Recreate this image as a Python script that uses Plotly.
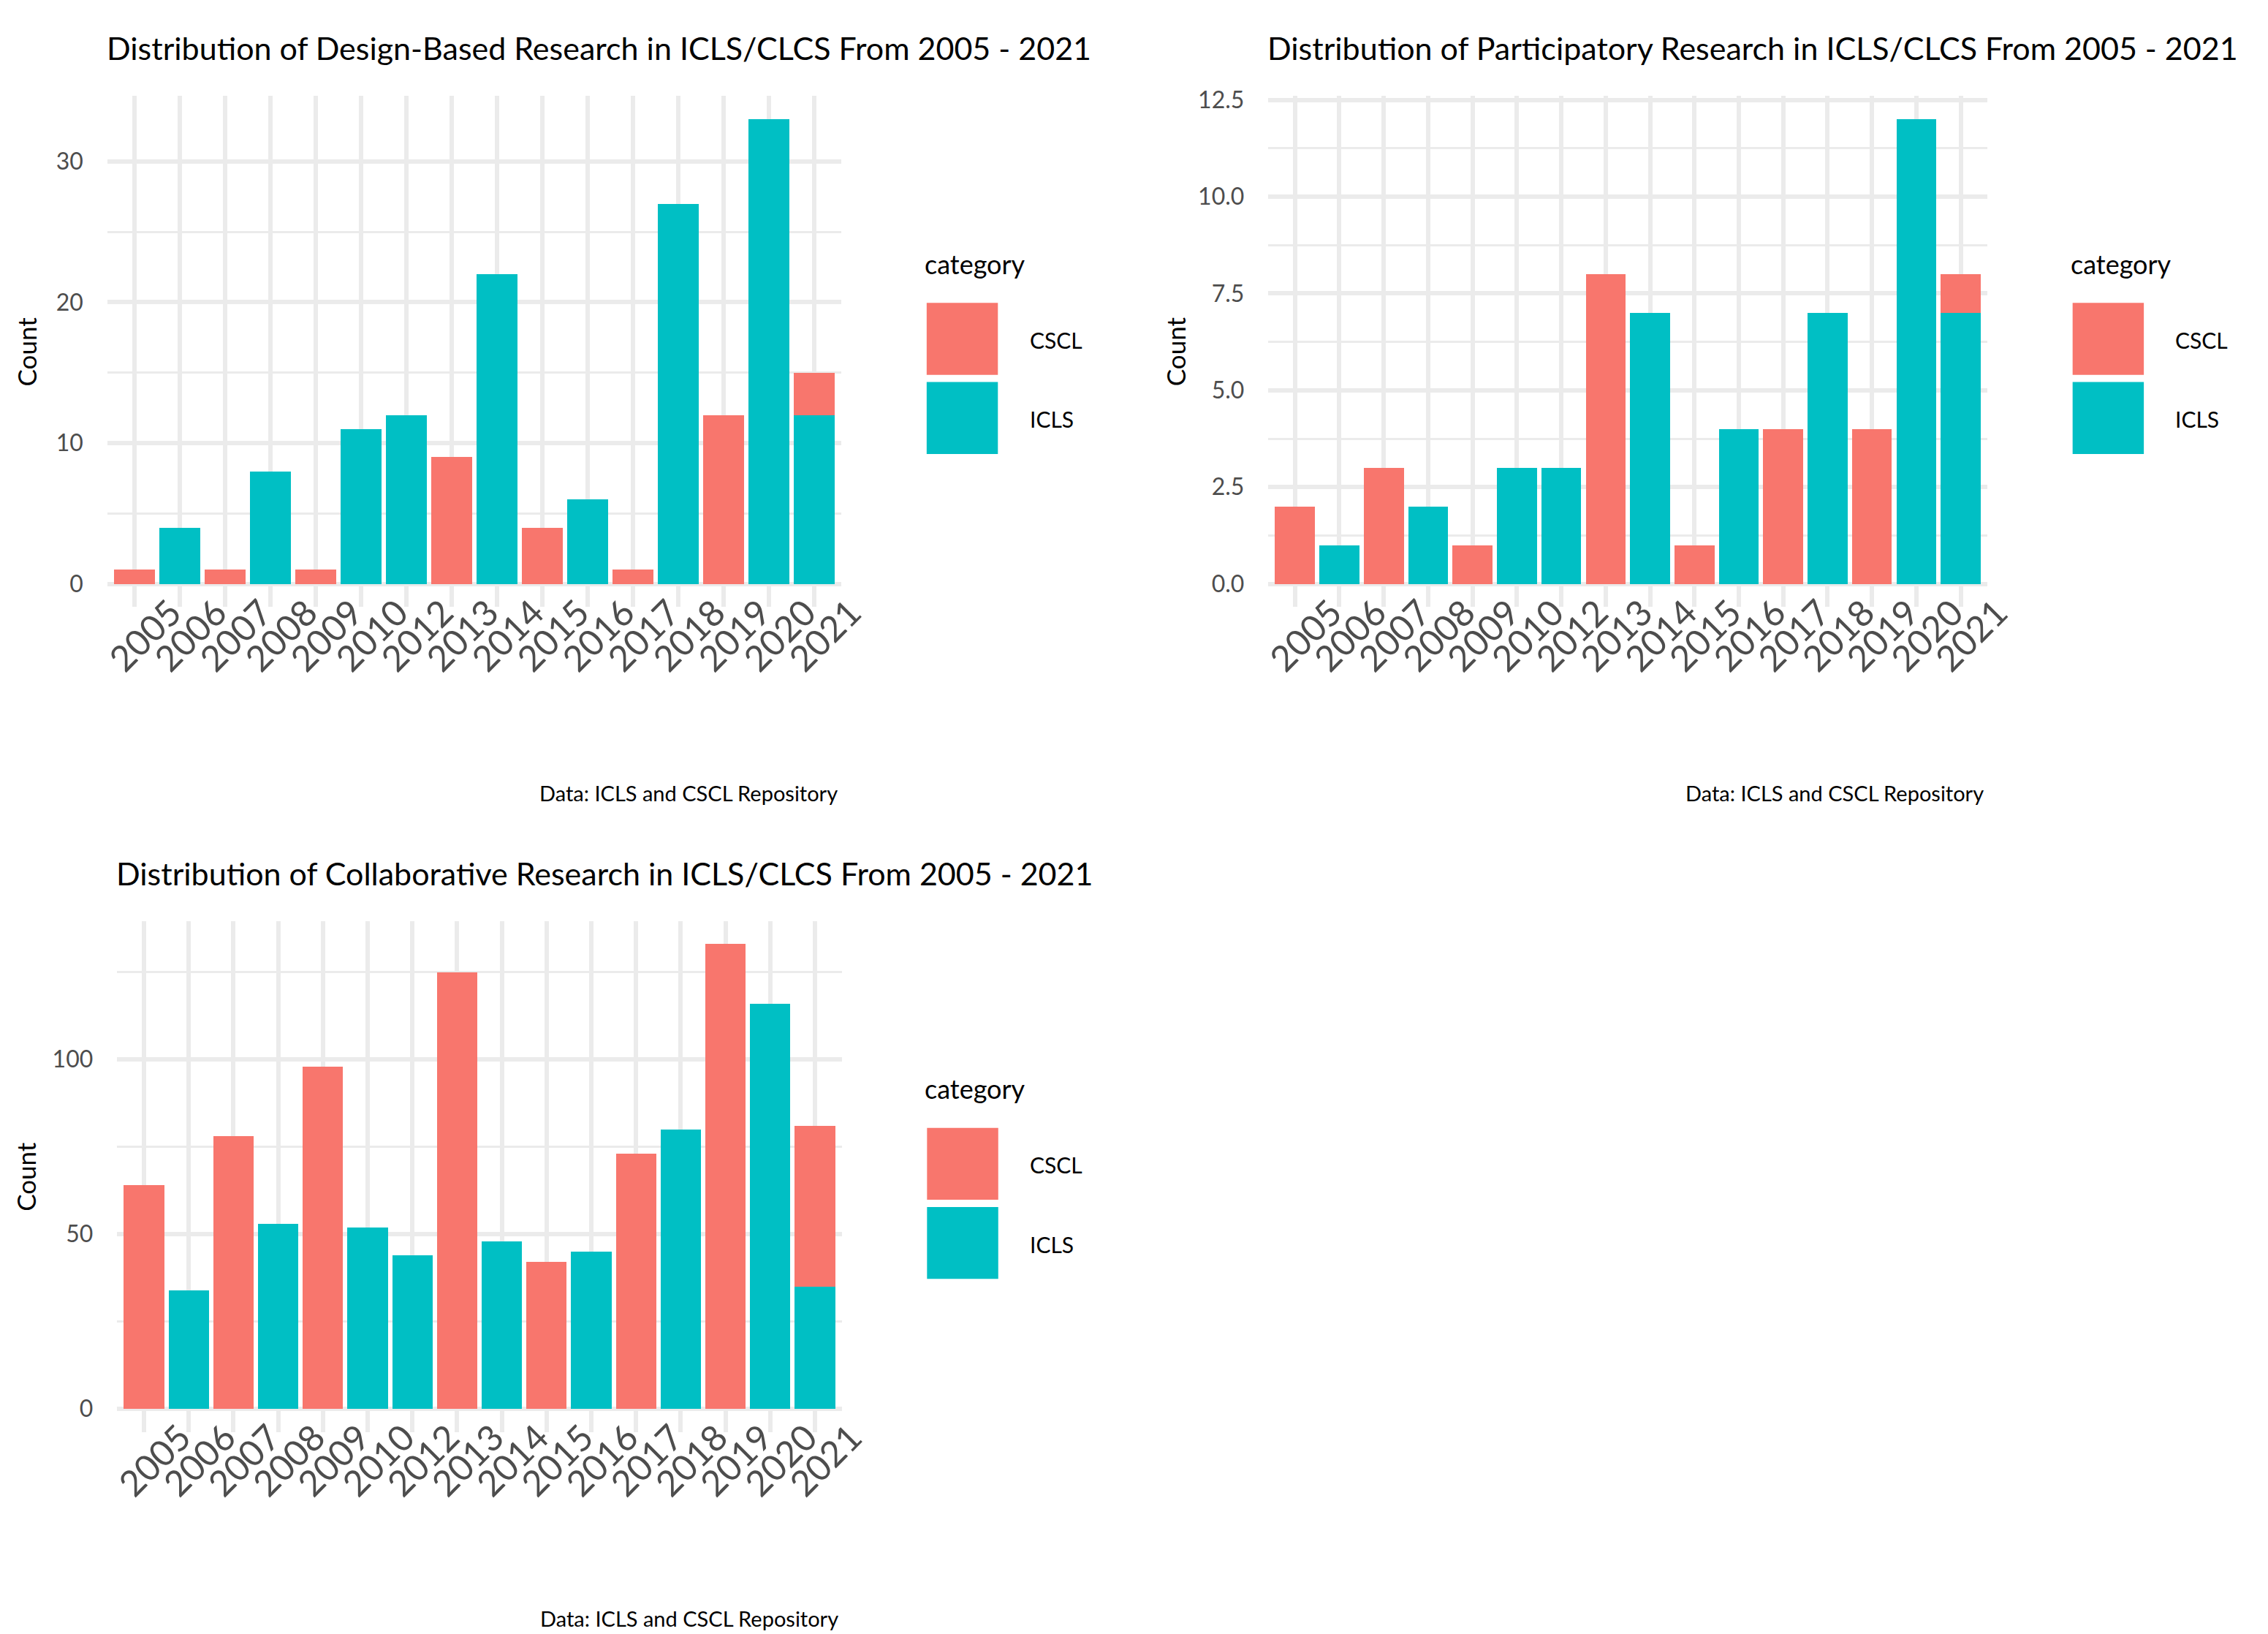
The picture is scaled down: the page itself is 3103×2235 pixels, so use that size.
import plotly.graph_objects as go

# ---------------- data ----------------
years = ["2005", "2006", "2007", "2008", "2009", "2010", "2012", "2013",
         "2014", "2015", "2016", "2017", "2018", "2019", "2020", "2021"]

dbr_cscl = [1, None, 1, None, 1, None, None, 9, None, 4, None, 1, None, 12, None, 3]
dbr_icls = [None, 4, None, 8, None, 11, 12, None, 22, None, 6, None, 27, None, 33, 12]

pr_cscl = [2, None, 3, None, 1, None, None, 8, None, 1, None, 4, None, 4, None, 1]
pr_icls = [None, 1, None, 2, None, 3, 3, None, 7, None, 4, None, 7, None, 12, 7]

cr_cscl = [64, None, 78, None, 98, None, None, 125, None, 42, None, 73, None, 133, None, 46]
cr_icls = [None, 34, None, 53, None, 52, 44, None, 48, None, 45, None, 80, None, 116, 35]

titles = ["Distribution of Design-Based Research in ICLS/CLCS From 2005 - 2021",
          "Distribution of Participatory Research in ICLS/CLCS From 2005 - 2021",
          "Distribution of Collaborative Research in ICLS/CLCS From 2005 - 2021"]
caption = "Data: ICLS and CSCL Repository"
categories = ["CSCL", "ICLS"]

# ---------------- style ----------------
W, H = 3103, 2235
FONT = "Lato"
COL = {"CSCL": "#F8766D", "ICLS": "#00BFC4"}
GRID = "#EBEBEB"

def fx(px):
    return px / W

def fy(py):
    return 1 - py / H

panels = [
    dict(x0=138, x1=1158.5, yt=117, yb=821, rng=[-1.65, 34.65], dt=10, mdt=5, fmt="d",
         cscl=dbr_cscl, icls=dbr_icls, title_y=51, cap_y=1077, count_x=25, leg_dy=0),
    dict(x0=1752, x1=2751.5, yt=117, yb=821, rng=[-0.6, 12.6], dt=2.5, mdt=1.25, fmt=".1f",
         cscl=pr_cscl, icls=pr_icls, title_y=51, cap_y=1077, count_x=1622, leg_dy=0),
    dict(x0=151.7, x1=1159, yt=1253, yb=1957, rng=[-6.65, 139.65], dt=50, mdt=25, fmt="d",
         cscl=cr_cscl, icls=cr_icls, title_y=1187, cap_y=2213, count_x=25, leg_dy=1136),
]

fig = go.Figure()
annotations = []
shapes = []

for i, p in enumerate(panels):
    sfx = "" if i == 0 else str(i + 1)
    xa, ya = "x" + sfx, "y" + sfx
    fig.add_trace(go.Bar(x=years, y=p["icls"], name="ICLS", marker=dict(color=COL["ICLS"], line=dict(width=0)),
                         xaxis=xa, yaxis=ya, showlegend=False, width=0.9))
    fig.add_trace(go.Bar(x=years, y=p["cscl"], name="CSCL", marker=dict(color=COL["CSCL"], line=dict(width=0)),
                         xaxis=xa, yaxis=ya, showlegend=False, width=0.9))

    fig.layout["xaxis" + sfx] = dict(
        domain=[fx(p["x0"]), fx(p["x1"])], anchor=ya, type="category",
        range=[-0.6, len(years) - 0.4], showgrid=True, gridcolor=GRID, gridwidth=5.5,
        zeroline=False, showline=False, ticks="", tickangle=-45,
        tickfont=dict(family=FONT, size=49, color="#4D4D4D"),
        ticklabelshift=50, ticklabelstandoff=-32, fixedrange=True,
    )
    fig.layout["yaxis" + sfx] = dict(
        domain=[fy(p["yb"]), fy(p["yt"])], anchor=xa, range=p["rng"],
        tick0=0, dtick=p["dt"], tickformat=p["fmt"],
        showgrid=True, gridcolor=GRID, gridwidth=5.5, zeroline=False, showline=False, ticks="",
        minor=dict(tick0=0, dtick=p["mdt"], showgrid=True, gridcolor=GRID, gridwidth=2.8),
        tickfont=dict(family=FONT, size=32, color="#4D4D4D"), ticklabelstandoff=32,
    )

    annotations.append(dict(text=titles[i], xref="paper", yref="paper", x=fx(p["x0"]) - 0.001,
                            y=fy(p["title_y"]), xanchor="left", yanchor="middle", showarrow=False,
                            font=dict(family=FONT, size=43, color="#000000")))
    annotations.append(dict(text="Count", xref="paper", yref="paper", x=fx(p["count_x"]),
                            y=fy((p["yt"] + p["yb"]) / 2), xanchor="center", yanchor="middle",
                            textangle=-90, showarrow=False,
                            font=dict(family=FONT, size=35, color="#000000")))
    annotations.append(dict(text=caption, xref="paper", yref="paper", x=fx(p["x1"] - 3),
                            y=fy(p["cap_y"]), xanchor="right", yanchor="middle", showarrow=False,
                            font=dict(family=FONT, size=29, color="#000000")))
    # legend (drawn manually to match ggplot's large key boxes)
    lx, dy = p["x1"] + 113.5, p["leg_dy"]
    annotations.append(dict(text="category", xref="paper", yref="paper", x=fx(lx), y=fy(348 + dy),
                            xanchor="left", yanchor="middle", showarrow=False,
                            font=dict(family=FONT, size=36, color="#000000")))
    key_tops = [402, 511]
    for k, cat in enumerate(categories):
        top = key_tops[k] + dy
        shapes.append(dict(type="rect", xref="paper", yref="paper",
                           x0=fx(lx + 5), x1=fx(lx + 104), y0=fy(top + 99), y1=fy(top),
                           fillcolor=COL[cat], line=dict(width=0)))
        annotations.append(dict(text=cat, xref="paper", yref="paper", x=fx(lx + 146), y=fy(top + 51),
                                xanchor="left", yanchor="middle", showarrow=False,
                                font=dict(family=FONT, size=30, color="#000000")))

fig.update_layout(
    width=W, height=H, barmode="stack", bargap=0.1,
    margin=dict(l=0, r=0, t=0, b=0),
    paper_bgcolor="white", plot_bgcolor="white",
    font=dict(family=FONT, color="#000000"),
    annotations=annotations, shapes=shapes, showlegend=False,
)

fig.write_html("out.html", config={"displayModeBar": False},
               post_script="document.body.style.margin='0px';")
